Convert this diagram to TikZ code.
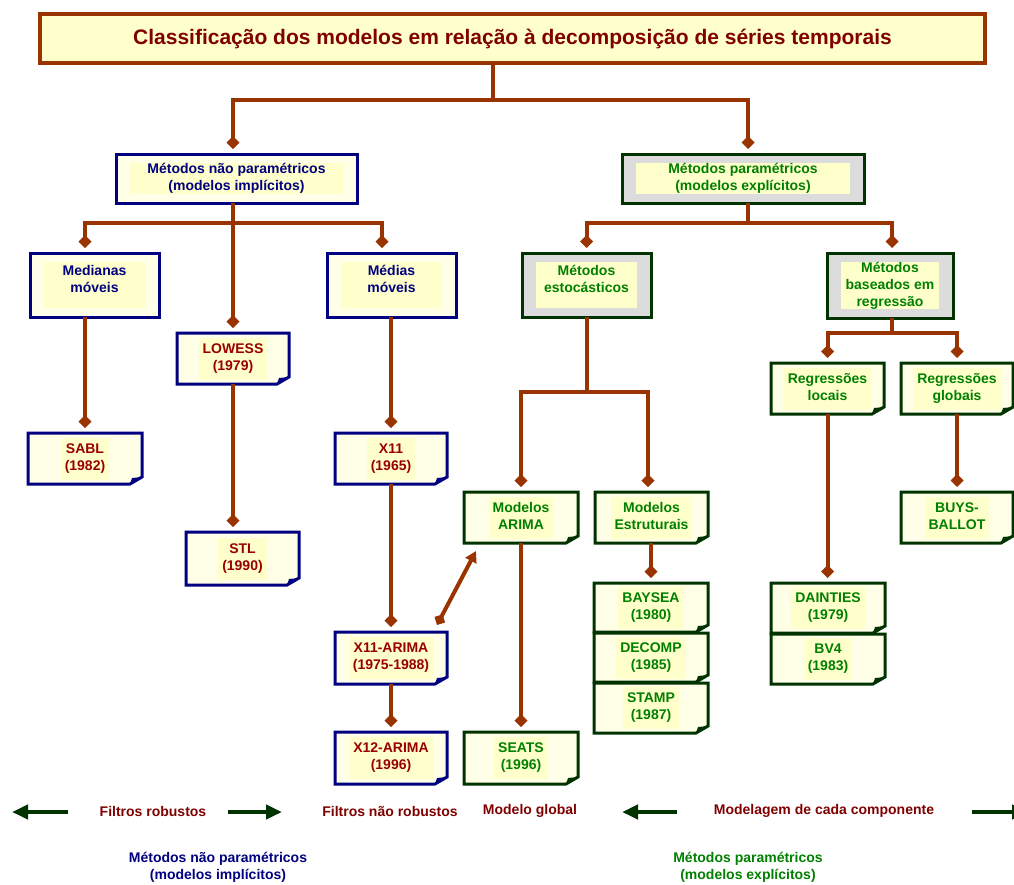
\documentclass[tikz,border=0pt]{standalone}
\usepackage{fontspec}
\setmainfont{Liberation Sans}
\usetikzlibrary{arrows.meta,backgrounds,calc}
\definecolor{brn}{HTML}{993300}
\definecolor{navyc}{HTML}{000080}
\definecolor{dgreen}{HTML}{003300}
\definecolor{tgreen}{HTML}{008000}
\definecolor{maroonc}{HTML}{990000}
\definecolor{tmaroon}{HTML}{800000}
\definecolor{ylw}{HTML}{FFFFCC}
\definecolor{pale}{HTML}{FFFFE8}
\definecolor{grayfill}{HTML}{DCDCDC}
\newcommand{\hl}[1]{{\setlength{\fboxsep}{4pt}\colorbox{ylw}{\begin{tabular}{@{}c@{}}#1\end{tabular}}}}
\newcommand{\notefold}[2]{%
  \filldraw[draw=#2, fill=pale, line width=3pt]
    (#1.north west) -- (#1.north east) -- ([yshift=7pt]#1.south east)
    -- ([xshift=-12pt]#1.south east) -- (#1.south west) -- cycle;
  \fill[#2] ([xshift=-12pt]#1.south east) -- ([yshift=7pt]#1.south east)
    -- ([xshift=-10pt,yshift=6pt]#1.south east) -- cycle;
}
\tikzset{
  every node/.append style={outer sep=0pt, align=center},
  boxfont/.style={font=\bfseries\fontsize{14}{17}\selectfont},
  innerrect/.style={path picture={\fill[ylw]
     ([shift={(14pt,-9pt)}]path picture bounding box.north west) rectangle
     ([shift={(-14pt,9pt)}]path picture bounding box.south east);}},
  titlebox/.style={draw=brn, line width=4pt, fill=ylw, text=tmaroon,
     font=\bfseries\fontsize{21}{25}\selectfont},
  bluebox/.style={boxfont, draw=navyc, line width=3pt, fill=pale, text=navyc, innerrect},
  greenbox/.style={boxfont, draw=dgreen, line width=3pt, fill=grayfill, text=tgreen, innerrect},
  bluenote/.style={boxfont, text=maroonc, inner sep=0pt},
  greennote/.style={boxfont, text=tgreen, inner sep=0pt},
  link/.style={draw=brn, line width=4pt, -{Diamond[length=13pt,width=13pt]}, shorten >=5pt},
  plainlink/.style={draw=brn, line width=4pt},
  legarrow/.style={draw=dgreen, line width=4pt, -{Triangle[length=16pt,width=14pt]}},
  legendtext/.style={font=\bfseries\fontsize{14}{17}\selectfont, text=tmaroon},
}
\begin{document}
\begin{tikzpicture}[x=1pt,y=-1pt]
\clip (0,0) rectangle (1014,884);
\begin{scope}[on background layer]
\fill[white] (0,0) rectangle (1014,884);
\end{scope}

% title and top-level boxes
\node[titlebox, minimum width=945pt, minimum height=49pt] (title) at (512.5,38.5)
  {Classificação dos modelos em relação à decomposição de séries temporais};
\node[bluebox, minimum width=241pt, minimum height=49pt] (np) at (236.5,178.5)
  {Métodos não paramétricos\\(modelos implícitos)};
\node[greenbox, minimum width=242pt, minimum height=49pt] (p) at (743,178.5)
  {Métodos paramétricos\\(modelos explícitos)};
\node[bluebox, minimum width=129pt, minimum height=64pt] (med) at (94.5,285) {Medianas\\móveis\\[-10pt]\strut};
\node[bluebox, minimum width=129pt, minimum height=64pt] (mm) at (391.5,285) {Médias\\móveis\\[-10pt]\strut};
\node[greenbox, minimum width=129pt, minimum height=64pt] (est) at (586.5,285) {Métodos\\estocásticos\\[-10pt]\strut};
\node[greenbox, minimum width=126pt, minimum height=65pt] (reg) at (890,285.5) {Métodos\\baseados em\\regressão};

% note boxes
\node[bluenote, minimum width=112pt, minimum height=51pt] (lowess) at (233,358.5) {\hl{LOWESS\\(1979)}};
\node[bluenote, minimum width=114pt, minimum height=51pt] (sabl) at (85,458.5) {\hl{SABL\\(1982)}};
\node[bluenote, minimum width=112pt, minimum height=51pt] (x11) at (391,458.5) {\hl{X11\\(1965)}};
\node[bluenote, minimum width=113pt, minimum height=53pt] (stl) at (242.5,558.5) {\hl{STL\\(1990)}};
\node[bluenote, minimum width=112pt, minimum height=52pt] (x11a) at (391,658) {\hl{X11-ARIMA\\(1975-1988)}};
\node[bluenote, minimum width=112pt, minimum height=52pt] (x12a) at (391,758) {\hl{X12-ARIMA\\(1996)}};
\node[greennote, minimum width=113pt, minimum height=51pt] (regloc) at (827.5,388.5) {\hl{Regressões\\locais}};
\node[greennote, minimum width=112pt, minimum height=51pt] (reggl) at (957,388.5) {\hl{Regressões\\globais}};
\node[greennote, minimum width=114pt, minimum height=51pt] (arima) at (521,517.5) {\hl{Modelos\\ARIMA}};
\node[greennote, minimum width=113pt, minimum height=51pt] (estr) at (651.5,517.5) {\hl{Modelos\\Estruturais}};
\node[greennote, minimum width=112pt, minimum height=51pt] (buys) at (957,517.5) {\hl{BUYS-\\BALLOT}};
\node[greennote, minimum width=114pt, minimum height=49pt] (baysea) at (651,607.5) {\hl{BAYSEA\\(1980)}};
\node[greennote, minimum width=114pt, minimum height=49pt] (decomp) at (651,657.5) {\hl{DECOMP\\(1985)}};
\node[greennote, minimum width=114pt, minimum height=50pt] (stamp) at (651,708) {\hl{STAMP\\(1987)}};
\node[greennote, minimum width=114pt, minimum height=50pt] (dainties) at (828,608) {\hl{DAINTIES\\(1979)}};
\node[greennote, minimum width=114pt, minimum height=50pt] (bv4) at (828,659) {\hl{BV4\\(1983)}};
\node[greennote, minimum width=114pt, minimum height=52pt] (seats) at (521,758) {\hl{SEATS\\(1996)}};

\begin{scope}[on background layer]
\foreach \n in {lowess,sabl,x11,stl,x11a,x12a} {\notefold{\n}{navyc}}
\foreach \n in {regloc,reggl,arima,estr,buys,baysea,decomp,stamp,dainties,bv4,seats} {\notefold{\n}{dgreen}}
\end{scope}

% connectors
\coordinate (t0) at (493,100);
\draw[plainlink] (title.south -| t0) -- (t0);
\draw[link] (t0) -| ([xshift=-3.5pt]np.north);
\draw[link] (t0) -| ([xshift=5pt]p.north);

\coordinate (b1) at (233,223);
\draw[link] ([xshift=-3.5pt]np.south) -- (lowess.north);
\draw[link] (b1) -| ([xshift=-9.5pt]med.north);
\draw[link] (b1) -| ([xshift=-9.5pt]mm.north);
\draw[link] (med.south -| sabl.north) -- (sabl.north);
\draw[link] (lowess.south) -- (lowess.south |- stl.north);
\draw[link] (mm.south -| x11.north) -- (x11.north);
\draw[link] (x11.south) -- (x11a.north);
\draw[link] (x11a.south) -- (x12a.north);

\coordinate (b2) at (748,223);
\draw[plainlink] ([xshift=5pt]p.south) -- (b2);
\draw[link] (b2) -| (est.north);
\draw[link] (b2) -| ([xshift=2pt]reg.north);

\coordinate (b3) at (586.5,392);
\draw[plainlink] (est.south) -- (b3);
\draw[link] (b3) -| (arima.north);
\draw[link] (b3) -| ([xshift=-3.5pt]estr.north);
\draw[link] (arima.south) -- (seats.north);
\draw[link] ([xshift=-0.5pt]estr.south) -- (baysea.north);

\coordinate (b4) at (892,333);
\draw[plainlink] ([xshift=2pt]reg.south) -- (b4);
\draw[link] (b4) -| (regloc.north);
\draw[link] (b4) -| (reggl.north);
\draw[link] (regloc.south) -- (regloc.south |- dainties.north);
\draw[link] (reggl.south) -- (buys.north);

\draw[brn, line width=4pt, {Diamond[length=12pt,width=12pt]}-{Triangle[length=11pt,width=12pt]}]
  ([xshift=-10pt,yshift=7pt]x11a.north east) -- ([xshift=12pt,yshift=-8pt]arima.south west);

% legend
\coordinate (la1) at (68,812);  \coordinate (la2) at (12,812);
\coordinate (lb1) at (228,812); \coordinate (lb2) at (282,812);
\coordinate (lc1) at (677,812); \coordinate (lc2) at (622,812);
\coordinate (ld1) at (972,812); \coordinate (ld2) at (1028,812);
\draw[legarrow] (la1) -- (la2);
\draw[legarrow] (lb1) -- (lb2);
\draw[legarrow] (lc1) -- (lc2);
\draw[legarrow] (ld1) -- (ld2);
\node[legendtext] (l1) at (153,811) {Filtros robustos};
\node[legendtext] (l2) at (390,811) {Filtros não robustos};
\node[legendtext] (l3) at (530,811) {Modelo global};
\node[legendtext] (l4) at (824,811) {Modelagem de cada componente};
\node[legendtext, text=navyc] (bn) at (218,867.5) {Métodos não paramétricos\\(modelos implícitos)};
\node[legendtext, text=tgreen] (bg) at (748,867.5) {Métodos paramétricos\\(modelos explícitos)};
\end{tikzpicture}
\end{document}
